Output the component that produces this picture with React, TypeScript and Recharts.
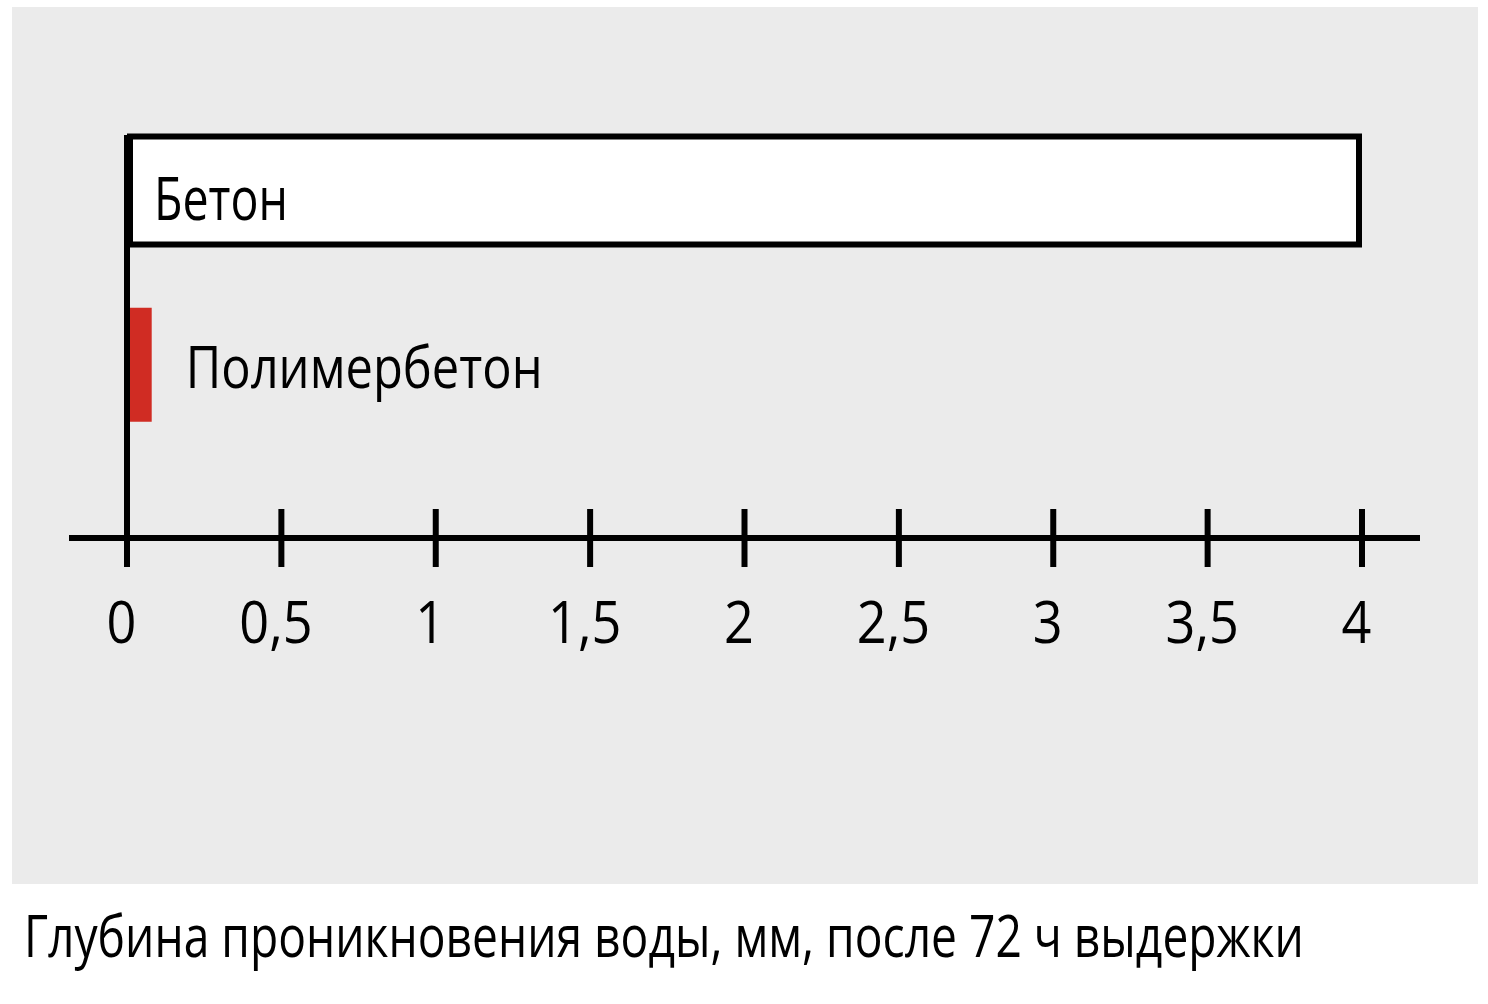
import { useLayoutEffect, useRef, useState } from 'react';
import { BarChart, Bar, XAxis, YAxis, LabelList, ReferenceLine } from 'recharts';

// Water penetration depth (mm) after 72 h
const CATEGORIES = ['Бетон', 'Полимербетон'];
const DEPTH_MM = [4, 0.08];
const X_TICKS = [0, 0.5, 1, 1.5, 2, 2.5, 3, 3.5, 4];
const CAPTION = 'Глубина проникновения воды, мм, после 72 ч выдержки';

const BAR_FILLS = ['#ffffff', '#d02c23'];
const BAR_STROKES = ['#000000', 'none'];
const LABEL_WIDTHS = [134, 357];

const INK = '#000000';
const PANEL = '#ebebeb';
const FONT = '"Open Sans", "DejaVu Sans", sans-serif';
const STROKE = 6;
const TICK_SQUEEZE = 0.9;

const data = CATEGORIES.map((name, i) => ({ name, depth: DEPTH_MM[i] }));

const formatTick = (v: number) => String(v).replace('.', ',');

// squeezes a text horizontally so it takes the given width (the source font is condensed)
function FitText({ x, y, width, children, ...rest }: any) {
  const ref = useRef<SVGTextElement>(null);
  const [k, setK] = useState(1);
  useLayoutEffect(() => {
    const el = ref.current;
    if (!el) return;
    const natural = el.getComputedTextLength();
    if (natural > 0) setK(width / natural);
  }, [width, children]);
  return (
    <text ref={ref} x={0} y={0} transform={`translate(${x},${y}) scale(${k},1)`} {...rest}>
      {children}
    </text>
  );
}

function AxisTick(props: any) {
  const { x, y, payload } = props;
  return (
    <g>
      <line x1={x} x2={x} y1={y - 29} y2={y + 29} stroke={INK} strokeWidth={STROKE} />
      <text
        transform={`translate(${x - 5.5},${y + 105}) scale(${TICK_SQUEEZE},1)`}
        textAnchor="middle"
        fontFamily={FONT}
        fontSize={58}
        fill={INK}
      >
        {formatTick(payload.value)}
      </text>
    </g>
  );
}

// outlined bars keep their stroke inside the bar's box
function DepthBar(props: any) {
  const { x, y, width, height, index } = props;
  const stroke = BAR_STROKES[index];
  if (stroke === 'none') {
    return <rect x={x} y={y} width={width} height={height} fill={BAR_FILLS[index]} />;
  }
  const inset = STROKE / 2;
  return (
    <rect
      x={x + inset}
      y={y + inset}
      width={Math.max(0, width - STROKE)}
      height={Math.max(0, height - STROKE)}
      fill={BAR_FILLS[index]}
      stroke={stroke}
      strokeWidth={STROKE}
    />
  );
}

function BarLabel(props: any) {
  const { value, index } = props;
  const box = props.viewBox ?? props;
  const { x, y, width, height } = box;
  const inside = width > LABEL_WIDTHS[index] + 60;
  const tx = inside ? x + 27 : x + width + 34;
  const ty = y + height / 2 + (inside ? 29 : 23.5);
  return (
    <FitText
      x={tx}
      y={ty}
      width={LABEL_WIDTHS[index]}
      fontFamily={FONT}
      fontSize={inside ? 60 : 58}
      fill={INK}
    >
      {value}
    </FitText>
  );
}

export default function App() {
  return (
    <div
      style={{
        position: 'absolute',
        left: 0,
        top: 0,
        width: 1488,
        height: 1004,
        background: '#ffffff',
      }}
    >
      <div
        style={{
          position: 'absolute',
          left: 12,
          top: 7,
          width: 1466,
          height: 877,
          background: PANEL,
        }}
      >
        <BarChart
          width={1466}
          height={877}
          data={data}
          layout="vertical"
          margin={{ top: 128, right: 58, bottom: 226, left: 57 }}
        >
          <XAxis
            type="number"
            dataKey="depth"
            domain={[0, 4]}
            ticks={X_TICKS}
            interval={0}
            padding={{ left: 58, right: 58 }}
            height={120}
            tickSize={0}
            tickMargin={0}
            tickLine={false}
            axisLine={{ stroke: INK, strokeWidth: STROKE }}
            tick={<AxisTick />}
          />
          <YAxis
            type="category"
            dataKey="name"
            hide
            width={0}
            padding={{ top: -31.5, bottom: 86 }}
          />
          <Bar
            dataKey="depth"
            barSize={114}
            shape={<DepthBar />}
            isAnimationActive={false}
          >
            <LabelList dataKey="name" content={<BarLabel />} />
          </Bar>
          <ReferenceLine x={0} stroke={INK} strokeWidth={STROKE} />
        </BarChart>
      </div>
      <svg
        width={1488}
        height={120}
        style={{ position: 'absolute', left: 0, top: 884 }}
      >
        <FitText x={24} y={73} width={1280} fontFamily={FONT} fontSize={58} fill={INK}>
          {CAPTION}
        </FitText>
      </svg>
    </div>
  );
}
